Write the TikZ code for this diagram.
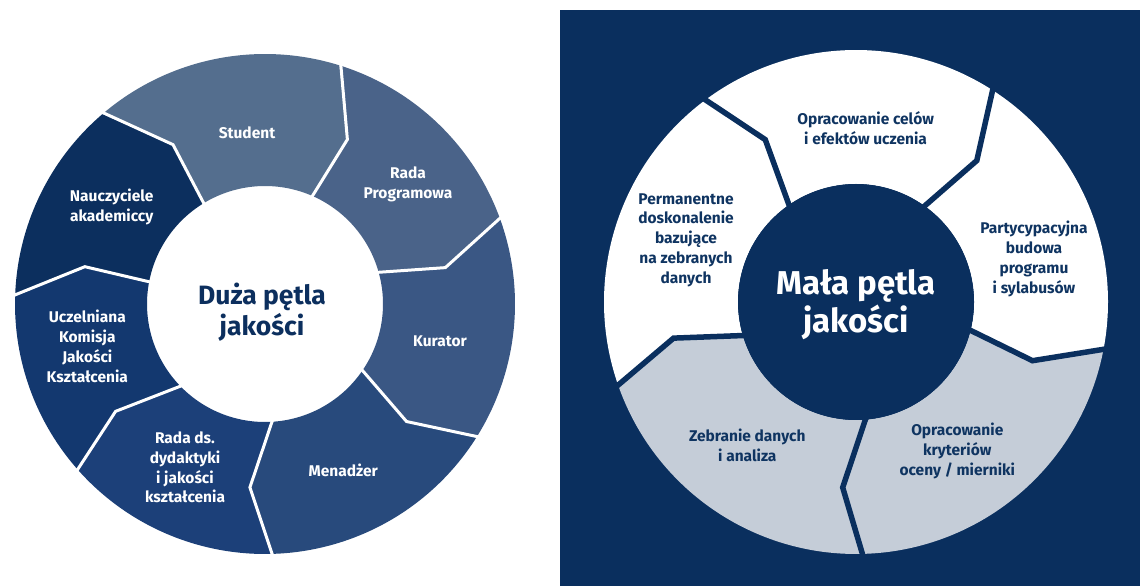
\documentclass[tikz,border=0pt]{standalone}
\usepackage{fontspec}
\setmainfont{Fira Sans}
\definecolor{cStudent}{HTML}{546E8E}
\definecolor{cRadaProg}{HTML}{4A6389}
\definecolor{cKurator}{HTML}{3A5784}
\definecolor{cMenadzer}{HTML}{284A7C}
\definecolor{cRadaDs}{HTML}{1C4079}
\definecolor{cUczel}{HTML}{13386F}
\definecolor{cNaucz}{HTML}{0C2F5E}
\definecolor{navybg}{HTML}{0A2F5E}
\definecolor{lightgray}{HTML}{C5CDD8}
\definecolor{navytext}{HTML}{0F3461}
% #1 colour, #2-#4 cw boundary (inner, bend, outer angle), #5-#7 ccw boundary
\newcommand\ringseg[7]{%
  \fill[#1] (#2:\Rin) -- (#3:\Rb) -- (#4:\Rout)
    arc[start angle=#4, end angle=#7, radius=\Rout]
    -- (#6:\Rb) -- (#5:\Rin)
    arc[start angle=#5, end angle=#2, radius=\Rin] -- cycle;}
\newcommand\ringsep[4]{%
  \draw[#1] (#2:\Rin-3) -- (#3:\Rb) -- (#4:\Rout+4);}
\tikzset{
  segtext/.style={align=center, inner sep=0pt, font=\bfseries\fontsize{15.5}{19.8}\selectfont},
  whitesep/.style={white, line width=3pt},
  navysep/.style={navybg, line width=5.5pt},
}
\begin{document}
\begin{tikzpicture}[x=1pt,y=1pt]
\useasboundingbox (0,0) rectangle (1140,586);
\fill[white] (0,0) rectangle (1140,586);
% ---------------- left diagram ----------------
\begin{scope}[shift={(265,282)}]
\def\Rin{118}\def\Rb{184}\def\Rout{250}
\ringseg{cStudent}{66.5}{63.4}{72.7}{121.4}{120}{130.6}
\ringseg{cRadaProg}{15.9}{11.4}{20.4}{66.5}{63.4}{72.7}
\ringseg{cKurator}{-33.9}{-39.7}{-31.7}{15.9}{11.4}{20.4}
\ringseg{cMenadzer}{-86}{-94.7}{-88.1}{-33.9}{-39.7}{-31.7}
\ringseg{cRadaDs}{-135.2}{-144.3}{-138.3}{-86}{-94.7}{-88.1}
\ringseg{cUczel}{-190.8}{-191.7}{-181.7}{-135.2}{-144.3}{-138.3}
\ringseg{cNaucz}{121.4}{120}{130.6}{169.2}{168.3}{178.3}
\ringsep{whitesep}{66.5}{63.4}{72.7}
\ringsep{whitesep}{15.9}{11.4}{20.4}
\ringsep{whitesep}{-33.9}{-39.7}{-31.7}
\ringsep{whitesep}{-86}{-94.7}{-88.1}
\ringsep{whitesep}{-135.2}{-144.3}{-138.3}
\ringsep{whitesep}{169.2}{168.3}{178.3}
\ringsep{whitesep}{121.4}{120}{130.6}
\end{scope}
\node[segtext, text=white] (student) at (247,453) {Student};
\node[segtext, text=white] (radaprog) at (408,401.5) {Rada\\Programowa};
\node[segtext, text=white] (kurator) at (440,244.3) {Kurator};
\node[segtext, text=white] (menadzer) at (343.3,116) {Menadżer};
\node[segtext, text=white] (radads) at (185,118.5) {Rada ds.\\dydaktyki\\i jakości\\kształcenia};
\node[segtext, text=white] (uczelniana) at (87.3,239.5) {Uczelniana\\Komisja\\Jakości\\Kształcenia};
\node[segtext, text=white] (nauczyciele) at (111.7,379.3) {Nauczyciele\\akademiccy};
\node[align=center, inner sep=0pt, text=cNaucz, font=\bfseries\fontsize{26.5}{31}\selectfont] (duza) at (262,274) {Duża pętla\\jakości};
% ---------------- right diagram ----------------
\fill[navybg] (560,0) rectangle (1140,576);
\begin{scope}[shift={(856,284)}]
\def\Rin{118}\def\Rb{186}\def\Rout{252}
\ringseg{white}{54.8}{49.5}{57.5}{125}{119.2}{127}
\ringseg{white}{-13.6}{-18.4}{-10.5}{54.8}{49.5}{57.5}
\ringseg{lightgray}{-84.8}{-94.1}{-88.3}{-13.6}{-18.4}{-10.5}
\ringseg{lightgray}{-163.1}{-168.8}{-160.4}{-84.8}{-94.1}{-88.3}
\ringseg{white}{125}{119.2}{127}{196.9}{191.2}{199.6}
\ringsep{navysep}{54.8}{49.5}{57.5}
\ringsep{navysep}{125}{119.2}{127}
\ringsep{navysep}{-13.6}{-18.4}{-10.5}
\ringsep{navysep}{-84.8}{-94.1}{-88.3}
\ringsep{navysep}{-163.1}{-168.8}{-160.4}
\fill[navybg] (0,0) circle[radius=\Rin];
\end{scope}
\node[segtext, text=navytext] (celow) at (865.6,458) {Opracowanie celów\\i efektów uczenia};
\node[segtext, text=navytext] (partyc) at (1034,327) {Partycypacyjna\\budowa\\programu\\i sylabusów};
\node[segtext, text=navytext] (kryt) at (957.3,135.2) {Opracowanie\\kryteriów\\oceny / mierniki};
\node[segtext, text=navytext] (zebranie) at (747.3,140.3) {Zebranie danych\\i analiza};
\node[segtext, text=navytext] (perm) at (686,346) {Permanentne\\doskonalenie\\bazujące\\na zebranych\\danych};
\node[align=center, inner sep=0pt, text=white, font=\bfseries\fontsize{33}{38}\selectfont] (mala) at (856,281) {Mała pętla\\jakości};
\end{tikzpicture}
\end{document}
